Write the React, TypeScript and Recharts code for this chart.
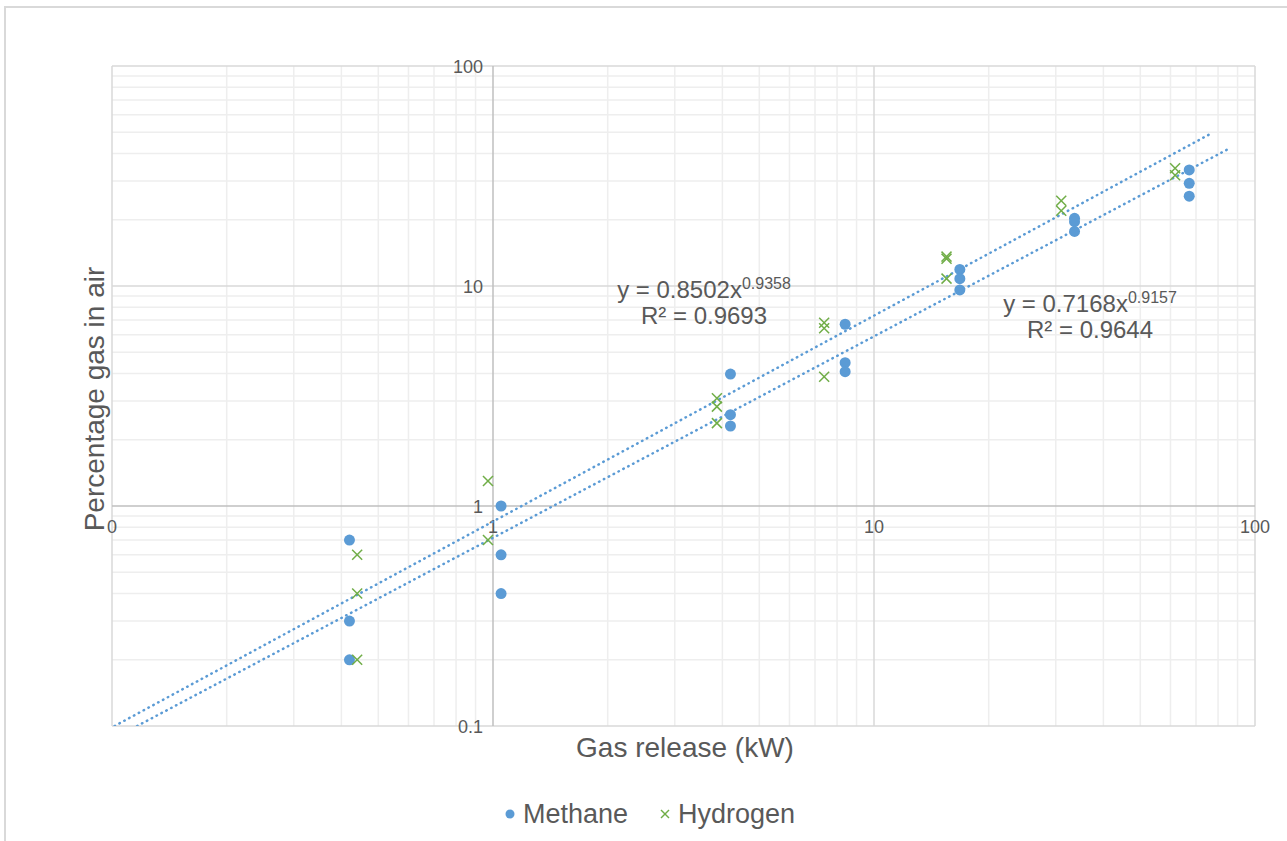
import React from "react";
import { ScatterChart, Scatter, XAxis, YAxis, ReferenceLine, ReferenceDot } from "recharts";

// measured points (gas release kW vs % gas in air)
const methaneX = [0.42, 0.42, 0.42, 1.05, 1.05, 1.05, 4.2, 4.2, 4.2, 8.4, 8.4, 8.4, 16.8, 16.8, 16.8, 33.6, 33.6, 33.6, 67.2, 67.2, 67.2];
const methaneY = [0.7, 0.3, 0.2, 1.0, 0.6, 0.4, 3.98, 2.6, 2.31, 6.7, 4.48, 4.08, 11.9, 10.8, 9.6, 20.3, 19.6, 17.7, 33.7, 29.3, 25.6];
const hydrogenX = [0.44, 0.44, 0.44, 0.97, 0.97, 3.87, 3.87, 3.87, 7.4, 7.4, 7.4, 15.5, 15.5, 15.5, 31, 31, 61.7, 61.7];
const hydrogenY = [0.6, 0.4, 0.2, 1.3, 0.7, 3.09, 2.83, 2.38, 6.81, 6.42, 3.87, 13.6, 13.3, 10.8, 24.4, 22.0, 34.3, 31.9];

// power-law fits y = a * x^b, drawn up to xEnd
const hydrogenFit = { a: 0.8502, b: 0.9358, r2: "0.9693", xEnd: 77 };
const methaneFit = { a: 0.7168, b: 0.9157, r2: "0.9644", xEnd: 85 };

const decades = [0.1, 1, 10];
const minorSteps = [2, 3, 4, 5, 6, 7, 8, 9];
const majorTicks = [0.1, 1, 10, 100];
const xTickLabels = ["0", "1", "10", "100"];
const yTickLabels = ["0.1", "1", "10", "100"];

const MIN = 0.1;
const MAX = 100;

const BLUE = "#5B9BD5";
const GREEN = "#70AD47";
const TEXT = "#595959";
const FONT = "'Liberation Sans', Arial, sans-serif";

const toPoints = (xs: number[], ys: number[]) => xs.map((x, i) => ({ x, y: ys[i] }));

const fitLine = (f: { a: number; b: number; xEnd: number }) => {
  // start where the fit leaves the bottom of the plot
  const xStart = Math.pow(MIN / f.a, 1 / f.b);
  return [xStart, f.xEnd].map((x) => ({ x, y: f.a * Math.pow(x, f.b) }));
};

const minorValues = decades.flatMap((d) => minorSteps.map((m) => +(d * m).toPrecision(3)));

const Circle = (p: any) => <circle cx={p.cx} cy={p.cy} r={5.5} fill={BLUE} />;
const Cross = (p: any) => (
  <g stroke={GREEN} strokeWidth={1.5}>
    <line x1={p.cx - 5} y1={p.cy - 5} x2={p.cx + 5} y2={p.cy + 5} />
    <line x1={p.cx - 5} y1={p.cy + 5} x2={p.cx + 5} y2={p.cy - 5} />
  </g>
);
const NoDot = () => <g />;

const trendStyle = {
  stroke: BLUE,
  strokeWidth: 2.5,
  strokeDasharray: "0.5 5",
  strokeLinecap: "round" as const,
};

// tick text sitting on the crossing axes
const xTickText = (text: string) => (props: any) => {
  const vb = props.viewBox || {};
  return (
    <text x={vb.x + (vb.width || 0) / 2} y={vb.y + 27} textAnchor="middle" fontSize={18} fill={TEXT} fontFamily={FONT}>
      {text}
    </text>
  );
};
const yTickText = (text: string) => (props: any) => {
  const vb = props.viewBox || {};
  return (
    <text x={vb.x - 10} y={vb.y + 7} textAnchor="end" fontSize={18} fill={TEXT} fontFamily={FONT}>
      {text}
    </text>
  );
};

function Equation({ fit, left, top }: { fit: typeof hydrogenFit; left: number; top: number }) {
  return (
    <div
      style={{
        position: "absolute",
        left,
        top,
        width: 240,
        textAlign: "center",
        fontSize: 24,
        lineHeight: "26px",
        color: TEXT,
        fontFamily: FONT,
      }}
    >
      <div>
        y = {fit.a}x<sup style={{ fontSize: 16, verticalAlign: "9px" }}>{fit.b}</sup>
      </div>
      <div>R² = {fit.r2}</div>
    </div>
  );
}

export default function App() {
  const methane = toPoints(methaneX, methaneY);
  const hydrogen = toPoints(hydrogenX, hydrogenY);

  return (
    <div style={{ position: "absolute", left: 0, top: 0, width: 1287, height: 841, background: "#fff", overflow: "hidden" }}>
      <div
        style={{
          position: "absolute",
          left: 4,
          top: 6,
          width: 1300,
          height: 900,
          borderTop: "2px solid #d9d9d9",
          borderLeft: "2px solid #d9d9d9",
        }}
      />
      <ScatterChart width={1287} height={841} margin={{ top: 66, right: 32, bottom: 115, left: 112 }}>
        <XAxis type="number" dataKey="x" scale="log" domain={[MIN, MAX]} allowDataOverflow hide />
        <YAxis type="number" dataKey="y" scale="log" domain={[MIN, MAX]} allowDataOverflow hide />

        {minorValues.map((v) => (
          <ReferenceLine key={"vx" + v} x={v} stroke="#eeeeee" strokeWidth={1.5} />
        ))}
        {minorValues.map((v) => (
          <ReferenceLine key={"hy" + v} y={v} stroke="#eeeeee" strokeWidth={1.5} />
        ))}
        {[0.1, 10, 100].map((v) => (
          <ReferenceLine key={"mx" + v} x={v} stroke="#d9d9d9" strokeWidth={1.5} />
        ))}
        {[0.1, 10, 100].map((v) => (
          <ReferenceLine key={"my" + v} y={v} stroke="#d9d9d9" strokeWidth={1.5} />
        ))}
        <ReferenceLine x={1} stroke="#bfbfbf" strokeWidth={1.5} />
        <ReferenceLine y={1} stroke="#bfbfbf" strokeWidth={1.5} />

        {majorTicks.map((v, i) => (
          <ReferenceDot
            key={"xt" + v}
            x={v}
            y={1}
            r={0}
            fill="none"
            stroke="none"
            label={{ content: xTickText(xTickLabels[i]) }}
          />
        ))}
        {majorTicks.map((v, i) => (
          <ReferenceDot
            key={"yt" + v}
            x={1}
            y={v}
            r={0}
            fill="none"
            stroke="none"
            label={{ content: yTickText(yTickLabels[i]) }}
          />
        ))}

        <Scatter data={fitLine(hydrogenFit)} line={trendStyle} shape={NoDot} isAnimationActive={false} />
        <Scatter data={fitLine(methaneFit)} line={trendStyle} shape={NoDot} isAnimationActive={false} />
        <Scatter name="Methane" data={methane} shape={Circle} isAnimationActive={false} />
        <Scatter name="Hydrogen" data={hydrogen} shape={Cross} isAnimationActive={false} />
      </ScatterChart>

      <Equation fit={hydrogenFit} left={584} top={271} />
      <Equation fit={methaneFit} left={970} top={285} />

      <div
        style={{
          position: "absolute",
          left: 485,
          top: 732,
          width: 400,
          textAlign: "center",
          fontSize: 28,
          lineHeight: "32px",
          color: TEXT,
          fontFamily: FONT,
        }}
      >
        Gas release (kW)
      </div>
      <div
        style={{
          position: "absolute",
          left: 95 - 200,
          top: 399 - 16,
          width: 400,
          textAlign: "center",
          fontSize: 28,
          lineHeight: "32px",
          color: TEXT,
          fontFamily: FONT,
          transform: "rotate(-90deg)",
        }}
      >
        Percentage gas in air
      </div>

      <div
        style={{
          position: "absolute",
          left: 0,
          top: 798,
          width: 1300,
          display: "flex",
          justifyContent: "center",
          alignItems: "center",
          gap: 32,
          fontSize: 27,
          lineHeight: "32px",
          color: TEXT,
          fontFamily: FONT,
        }}
      >
        <span style={{ display: "flex", alignItems: "center", gap: 8 }}>
          <svg width={10} height={10}>
            <circle cx={5} cy={5} r={4.5} fill={BLUE} />
          </svg>
          Methane
        </span>
        <span style={{ display: "flex", alignItems: "center", gap: 8 }}>
          <svg width={10} height={10}>
            <g stroke={GREEN} strokeWidth={1.5}>
              <line x1={1} y1={1} x2={9} y2={9} />
              <line x1={1} y1={9} x2={9} y2={1} />
            </g>
          </svg>
          Hydrogen
        </span>
      </div>
    </div>
  );
}
